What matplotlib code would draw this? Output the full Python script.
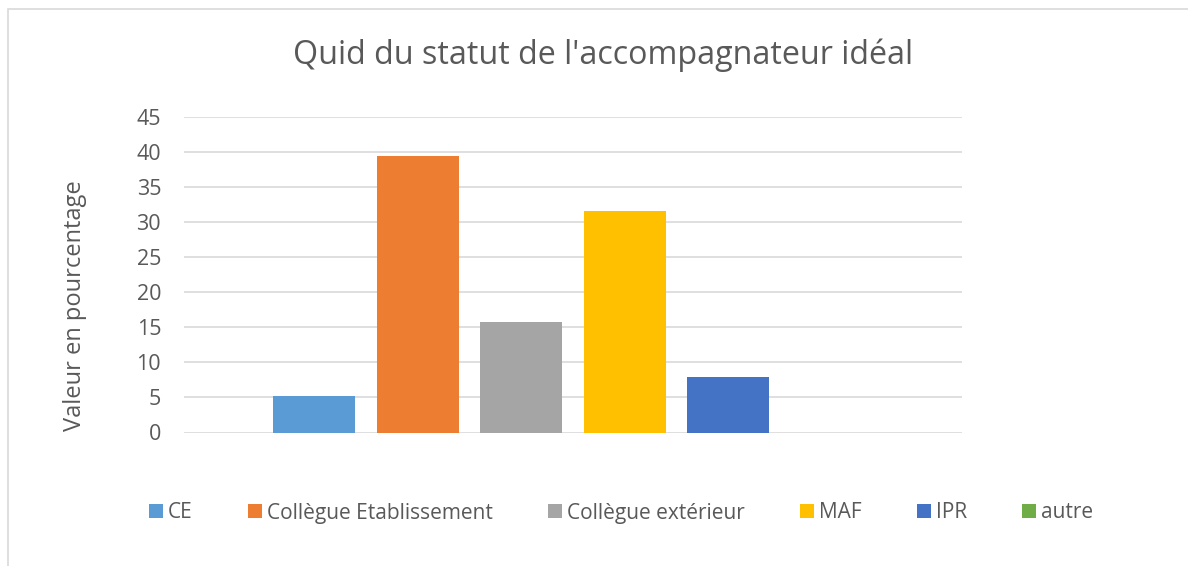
import matplotlib.pyplot as plt
from matplotlib.patches import Rectangle

# donnees (en %)
statuts = ["CE", "Collègue Etablissement", "Collègue extérieur", "MAF", "IPR", "autre"]
valeurs = [5.26, 39.47, 15.79, 31.58, 7.89, 0]
couleurs = ["#5b9bd5", "#ed7d31", "#a5a5a5", "#ffc000", "#4472c4", "#70ad47"]
yticks = [0, 5, 10, 15, 20, 25, 30, 35, 40, 45]

plt.rcParams['font.family'] = ['Open Sans', 'DejaVu Sans']
texte = '#595959'
grille = '#d9d9d9'

fig = plt.figure(figsize=(11.88, 5.66), dpi=100)
W, H = 1188, 566

# cadre du graphique
fig.patches.append(Rectangle((8 / W, -0.1), 1.2, 1 - 9 / H + 0.1, transform=fig.transFigure,
                             fill=False, edgecolor=grille, linewidth=1.2))

ax = fig.add_axes([184 / W, 1 - 432.5 / H, (962 - 184) / W, (432.5 - 117) / H])
x = list(range(len(statuts)))
barres = ax.bar(x, valeurs, width=0.79, color=couleurs, zorder=3)

ax.set_xlim(2.5 - 3.76, 2.5 + 3.76)
ax.set_ylim(0, 45)
ax.set_yticks(yticks)
ax.set_xticks([])
ax.yaxis.grid(True, color=grille, linewidth=1.2, zorder=0)
for s in ax.spines.values():
    s.set_visible(False)
ax.tick_params(axis='y', length=0, pad=16.5, labelsize=15.5, labelcolor=texte)

fig.text(75 / W, 1 - 306 / H, "Valeur en pourcentage", rotation=90, ha='center', va='center',
         fontsize=17, color=texte)
fig.text(603 / W, 1 - 55 / H, "Quid du statut de l'accompagnateur idéal", ha='center', va='center',
         fontsize=23.2, color=texte)

leg = fig.legend(handles=barres, labels=statuts, loc='center', bbox_to_anchor=(621 / W, 1 - 513 / H),
                 ncol=6, frameon=False, fontsize=15, handlelength=0.67, handleheight=0.67,
                 handletextpad=0.25, columnspacing=2.64, borderaxespad=0, borderpad=0)
for t in leg.get_texts():
    t.set_color(texte)

fig.savefig('out.png', dpi=100)
